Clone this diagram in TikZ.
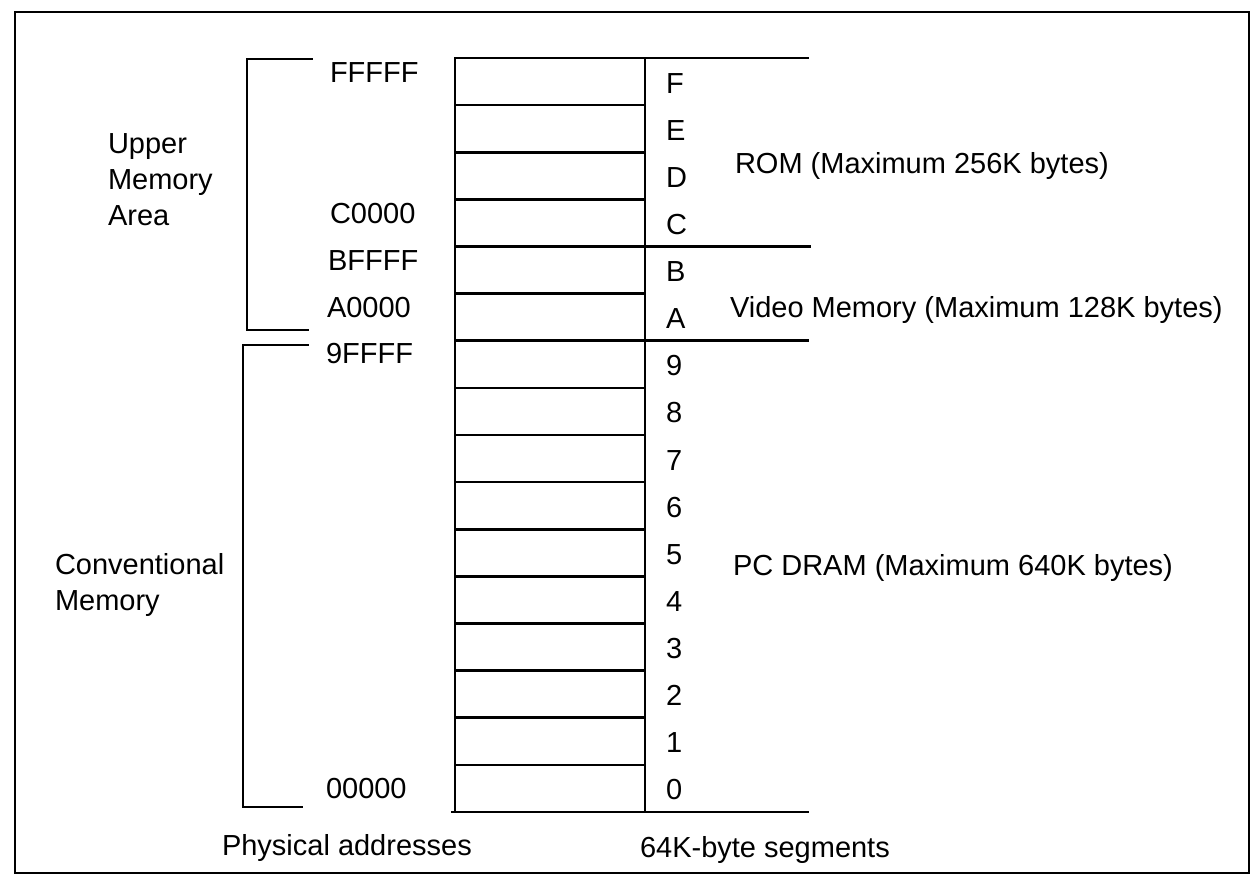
\documentclass[tikz,border=0pt]{standalone}
\usepackage{fontspec}
\setmainfont{Liberation Sans}
\begin{document}
\begin{tikzpicture}[x=1pt,y=-1pt,
  every node/.style={font=\fontsize{29}{34}\selectfont, inner sep=0pt, outer sep=0pt},
  lbl/.style={anchor=base west},
  ln/.style={line width=2.6pt, line cap=rect},
  frame/.style={line width=2.4pt}]
\useasboundingbox (0,0) rectangle (1251,879);
\fill[white] (0,0) rectangle (1251,879);
% outer frame
\draw[frame] (15,12) rectangle (1249,873);
% memory column
\def\rh{47.125}
\foreach \k in {1,...,15} {
  \draw[ln] (455,{58+\rh*\k}) -- (645,{58+\rh*\k});
}
\draw[ln] (455,58) -- (455,812);
\draw[ln] (645,58) -- (645,812);
\draw[ln] (455,58) -- (808,58);
\draw[ln] (452,812) -- (808,812);
\draw[ln] (645,{58+4*\rh}) -- (810,{58+4*\rh});
\draw[ln] (645,{58+6*\rh}) -- (808,{58+6*\rh});
% brackets
\draw[ln] (312,59) -- (247,59) -- (247,330) -- (308,330);
\draw[ln] (308,345) -- (243,345) -- (243,807) -- (302,807);
% addresses
\node[lbl] (aF) at (330,82) {FFFFF};
\node[lbl] (aC) at (330,223) {C0000};
\node[lbl] (aB) at (328,270) {BFFFF};
\node[lbl] (aA) at (327,317) {A0000};
\node[lbl] (a9) at (326,363) {9FFFF};
\node[lbl] (a0) at (326,798) {00000};
% segment labels
\foreach \s [count=\i from 0] in {F,E,D,C,B,A,9,8,7,6,5,4,3,2,1,0} {
  \node[lbl] (s\s) at (666,{93+\rh*\i}) {\s};
}
% area labels
\node[lbl] (u1) at (108,153) {Upper};
\node[lbl] (u2) at (108,189) {Memory};
\node[lbl] (u3) at (108,225) {Area};
\node[lbl] (c1) at (55,574) {Conventional};
\node[lbl] (c2) at (55,610) {Memory};
\node[lbl] (rom) at (735,173) {ROM (Maximum 256K bytes)};
\node[lbl] (vid) at (730,317) {Video Memory (Maximum 128K bytes)};
\node[lbl] (dram) at (733,575) {PC DRAM (Maximum 640K bytes)};
\node[lbl] (phys) at (222,855) {Physical addresses};
\node[lbl] (segs) at (640,857) {64K-byte segments};
\end{tikzpicture}
\end{document}
